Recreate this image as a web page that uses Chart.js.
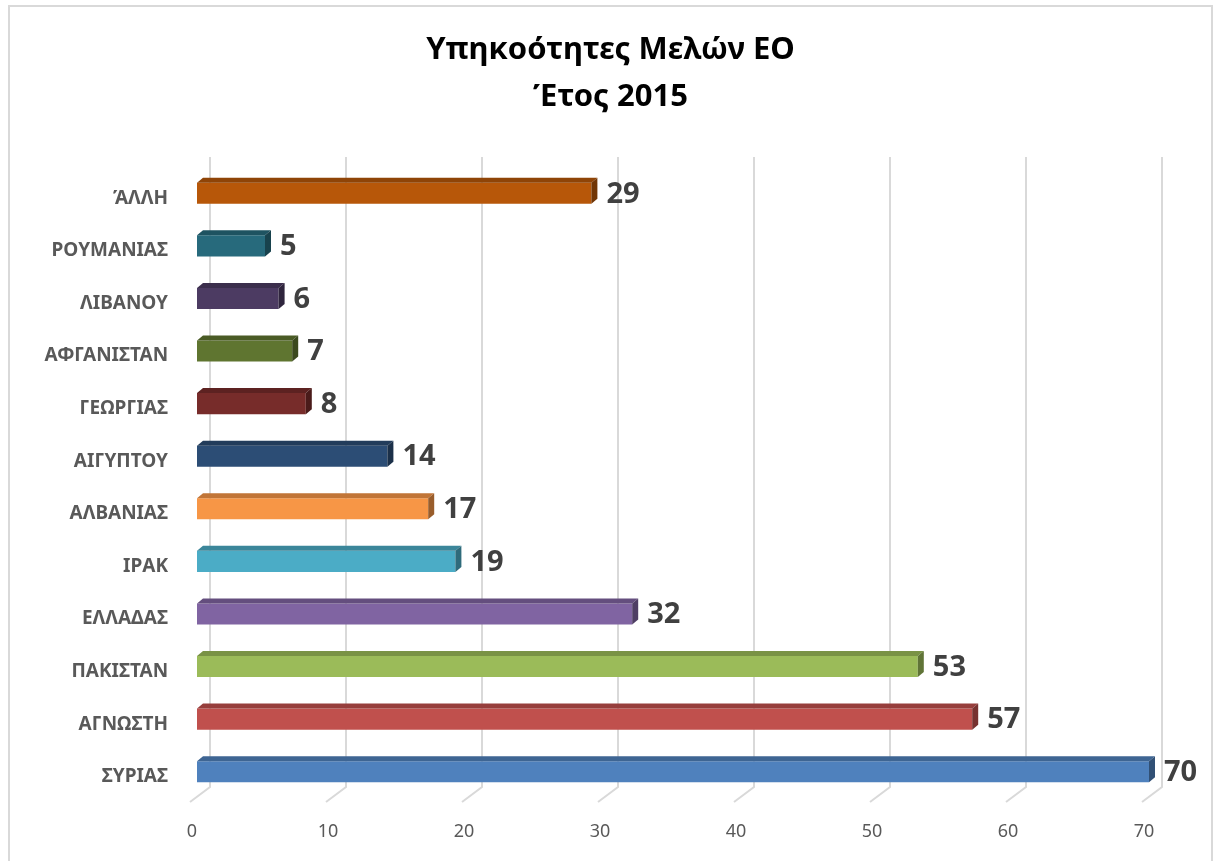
<!DOCTYPE html>
<html lang="el">
<head>
<meta charset="utf-8">
<title>Υπηκοότητες Μελών ΕΟ</title>
<script src="https://cdn.jsdelivr.net/npm/chart.js@4"></script>
<style>
  html, body { margin: 0; padding: 0; background: #fff; }
</style>
</head>
<body>
<canvas id="chart" width="1217" height="861"></canvas>
<script>
'use strict';

// Κατηγορίες (από πάνω προς τα κάτω) και τιμές
const countries = ['ΆΛΛΗ', 'ΡΟΥΜΑΝΙΑΣ', 'ΛΙΒΑΝΟΥ', 'ΑΦΓΑΝΙΣΤΑΝ', 'ΓΕΩΡΓΙΑΣ', 'ΑΙΓΥΠΤΟΥ',
  'ΑΛΒΑΝΙΑΣ', 'ΙΡΑΚ', 'ΕΛΛΑΔΑΣ', 'ΠΑΚΙΣΤΑΝ', 'ΑΓΝΩΣΤΗ', 'ΣΥΡΙΑΣ'];
const members = [29, 5, 6, 7, 8, 14, 17, 19, 32, 53, 57, 70];
const barColors = ['#b75709', '#276a7c', '#4c3b62', '#5f7530', '#772c2a', '#2c4d75',
  '#f79646', '#4bacc6', '#8064a2', '#9bbb59', '#c0504d', '#4f81bd'];
const xTicks = [0, 10, 20, 30, 40, 50, 60, 70];
const titleLines = ['Υπηκοότητες Μελών ΕΟ', 'Έτος 2015'];

const FONT = "'Noto Sans', sans-serif";
const DEPTH_X = 6;
const DEPTH_Y = 5;

function shade(hex, f) {
  const n = parseInt(hex.slice(1), 16);
  const r = Math.round(((n >> 16) & 255) * f);
  const g = Math.round(((n >> 8) & 255) * f);
  const b = Math.round((n & 255) * f);
  return `rgb(${r},${g},${b})`;
}

// Πλαίσιο γραφήματος και τίτλος (κεντραρισμένος σε όλο το πλάτος)
const frame = {
  id: 'frame',
  beforeDraw(chart) {
    const c = chart.ctx;
    c.save();
    c.strokeStyle = '#d9d9d9';
    c.lineWidth = 2;
    c.strokeRect(9, 6, 1203, 870);
    c.fillStyle = '#000';
    c.font = `bold 31px ${FONT}`;
    c.textAlign = 'center';
    c.textBaseline = 'middle';
    titleLines.forEach((line, i) => {
      c.fillText(line, chart.width / 2 + 2, 50 + i * 47);
    });
    c.restore();
  },
};

// Γραμμές πλέγματος στον πίσω τοίχο + διαγώνιες στο δάπεδο
const backGrid = {
  id: 'backGrid',
  beforeDatasetsDraw(chart) {
    const c = chart.ctx;
    const xs = chart.scales.x;
    const area = chart.chartArea;
    c.save();
    c.strokeStyle = '#d9d9d9';
    c.lineWidth = 2;
    xTicks.forEach(v => {
      const px = xs.getPixelForValue(v);
      c.beginPath();
      c.moveTo(px + 13, area.top - 10);
      c.lineTo(px + 13, area.bottom - 11);
      c.lineTo(px - 7, area.bottom + 4);
      c.stroke();
    });
    c.restore();
  },
};

// Πάνω και πλάγια όψη των ράβδων, και ετικέτες τιμών
const bars3d = {
  id: 'bars3d',
  afterDatasetsDraw(chart) {
    const c = chart.ctx;
    const meta = chart.getDatasetMeta(0);
    c.save();
    meta.data.forEach((bar, i) => {
      const top = bar.y - bar.height / 2;
      const bottom = bar.y + bar.height / 2;
      const col = barColors[i];
      // πάνω όψη
      c.fillStyle = shade(col, 0.78);
      c.beginPath();
      c.moveTo(bar.base, top);
      c.lineTo(bar.base + DEPTH_X, top - DEPTH_Y);
      c.lineTo(bar.x + DEPTH_X, top - DEPTH_Y);
      c.lineTo(bar.x, top);
      c.closePath();
      c.fill();
      // πλάγια όψη
      c.fillStyle = shade(col, 0.62);
      c.beginPath();
      c.moveTo(bar.x, top);
      c.lineTo(bar.x + DEPTH_X, top - DEPTH_Y);
      c.lineTo(bar.x + DEPTH_X, bottom - DEPTH_Y);
      c.lineTo(bar.x, bottom);
      c.closePath();
      c.fill();
      // ετικέτα τιμής
      c.fillStyle = '#404040';
      c.font = `bold 29px ${FONT}`;
      c.textAlign = 'left';
      c.textBaseline = 'middle';
      c.fillText(String(members[i]), bar.x + DEPTH_X + 9, bar.y + 1);
    });
    c.restore();
  },
};

const ctx = document.getElementById('chart').getContext('2d');
new Chart(ctx, {
  type: 'bar',
  data: {
    labels: countries,
    datasets: [{
      data: members,
      backgroundColor: barColors,
      borderWidth: 0,
      barPercentage: 0.4,
      categoryPercentage: 1,
    }],
  },
  options: {
    indexAxis: 'y',
    responsive: false,
    animation: false,
    layout: { padding: { left: 0, right: 68, top: 167, bottom: 0 } },
    plugins: {
      legend: { display: false },
      tooltip: { enabled: false },
      title: { display: false },
    },
    scales: {
      x: {
        min: 0,
        max: 70,
        afterFit: scale => { scale.height = 63; },
        afterBuildTicks: scale => { scale.ticks = xTicks.map(v => ({ value: v })); },
        grid: { display: false, drawTicks: false },
        border: { display: false },
        ticks: {
          color: '#595959',
          font: { family: FONT, size: 18 },
          padding: 23,
          labelOffset: -5,
        },
      },
      y: {
        afterFit: scale => { scale.width = 197; },
        grid: { display: false, drawTicks: false },
        border: { display: false },
        ticks: {
          color: '#595959',
          font: { family: FONT, size: 19, weight: 'bold' },
          padding: 29,
          labelOffset: 5,
        },
      },
    },
  },
  plugins: [frame, backGrid, bars3d],
});
</script>
</body>
</html>
